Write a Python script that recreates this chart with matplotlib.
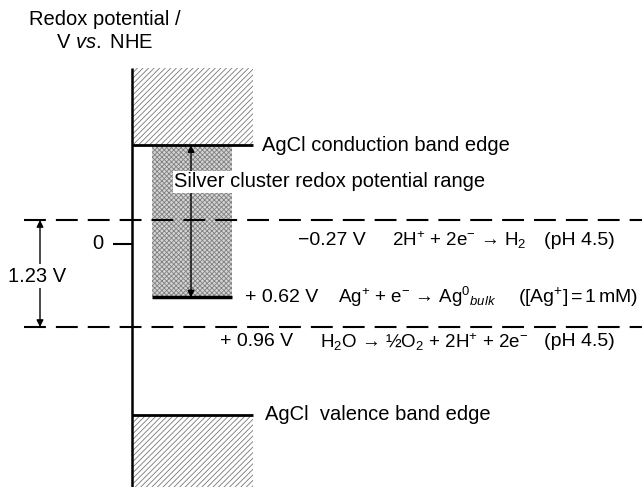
"""
Redox potential diagram: AgCl band edges, silver cluster range, water redox levels.
Output: out.png
"""
import matplotlib; matplotlib.use("Agg")
import matplotlib.pyplot as plt
from matplotlib.patches import Rectangle

plt.rcParams["font.family"] = ["Liberation Sans", "DejaVu Sans"]
plt.rcParams["mathtext.fontset"] = "custom"
plt.rcParams["mathtext.rm"] = "Liberation Sans"
plt.rcParams["mathtext.it"] = "Liberation Sans:italic"
plt.rcParams["hatch.linewidth"] = 0.6

# potentials in V vs. NHE (positive downwards)
CB_EDGE = -1.13
VB_EDGE = 1.97
H2_LEVEL = -0.27
AG_LEVEL = 0.62
O2_LEVEL = 0.96
ZERO = 0.0
TOP, BOTTOM = -2.02, 2.8

LEVEL_LABELS = ["\u22120.27 V", "+ 0.62 V", "+ 0.96 V"]
REACTIONS = ["2H$^{+}$ + 2e$^{-}$ \u2192 H$_{2}$",
             "Ag$^{+}$ + e$^{-}$ \u2192 Ag$^{0}$$_{\\it{bulk}}$",
             "H$_{2}$O \u2192 \u00bdO$_{2}$ + 2H$^{+}$ + 2e$^{-}$"]
CONDITIONS = ["(pH 4.5)", "([Ag$^{+}$]$\\,$=$\\,$1$\\,$mM)", "(pH 4.5)"]

fig = plt.figure(figsize=(6.42, 4.87), dpi=100)
ax = fig.add_axes([0, 0, 1, 1])
ax.set_xlim(0, 642)
ax.set_ylim(BOTTOM, -2.8)
ax.axis("off")

FS = 14.5
FS_ROW = 14
FS_RX = 13.5
AX_X, BAND_R = 132, 253

# hatched AgCl bands
for y0, y1 in [(TOP, CB_EDGE), (VB_EDGE, BOTTOM)]:
    ax.add_patch(Rectangle((AX_X, y0), BAND_R - AX_X, y1 - y0, facecolor="white",
                           edgecolor="#777777", hatch="//////", linewidth=0))
ax.hlines([CB_EDGE, VB_EDGE], AX_X, BAND_R, color="black", lw=2)

# silver cluster range (stippled)
ax.add_patch(Rectangle((152, CB_EDGE), 80, AG_LEVEL - CB_EDGE, facecolor="#d4d4d4",
                       edgecolor="#808080", hatch="xxxxxxx", linewidth=0))
ax.hlines(AG_LEVEL, 152, 232, color="black", lw=2.5)
ax.annotate("", xy=(191, CB_EDGE), xytext=(191, AG_LEVEL),
            arrowprops=dict(arrowstyle="<|-|>", color="black", lw=1, mutation_scale=10,
                            shrinkA=0, shrinkB=0))

# potential axis
ax.vlines(AX_X, TOP, BOTTOM, color="black", lw=1.8)
ax.hlines(ZERO, 113, AX_X, color="black", lw=1.5)
ax.text(103, ZERO, "0", fontsize=FS, ha="right", va="center")

# water redox dashed lines
for y in [H2_LEVEL, O2_LEVEL]:
    ax.hlines(y, 24, 642, color="black", lw=1.5, linestyles=(0, (10.5, 4.8)))
ax.annotate("", xy=(40, H2_LEVEL), xytext=(40, O2_LEVEL),
            arrowprops=dict(arrowstyle="<|-|>", color="black", lw=1, mutation_scale=10,
                            shrinkA=0, shrinkB=0))
ax.text(37, (H2_LEVEL + O2_LEVEL) / 2 + 0.03, "1.23 V", fontsize=FS, ha="center",
        va="center", bbox=dict(facecolor="white", edgecolor="none", pad=2))

# labels
ax.text(262, CB_EDGE, "AgCl conduction band edge", fontsize=FS, va="center")
ax.text(265, VB_EDGE, "AgCl  valence band edge", fontsize=FS, va="center")
ax.text(174, -0.71, "Silver cluster redox potential range", fontsize=FS, va="center",
        bbox=dict(facecolor="white", edgecolor="none", pad=1))
ax.text(105, -2.445, "Redox potential /\nV $\\it{vs.}$ NHE", fontsize=FS, ha="center",
        va="center", linespacing=1.25)

rows_y = [H2_LEVEL + 0.23, AG_LEVEL, O2_LEVEL + 0.17]
lab_x = [298, 245, 220]
rx_x = [392, 338, 320]
cond_right = [615, 638, 615]
for i in range(3):
    ax.text(lab_x[i], rows_y[i], LEVEL_LABELS[i], fontsize=FS_ROW, va="center")
    ax.text(rx_x[i], rows_y[i], REACTIONS[i], fontsize=FS_RX, va="center")
    ax.text(cond_right[i], rows_y[i], CONDITIONS[i], fontsize=FS_ROW, va="center",
            ha="right")

fig.savefig("out.png", dpi=100)
